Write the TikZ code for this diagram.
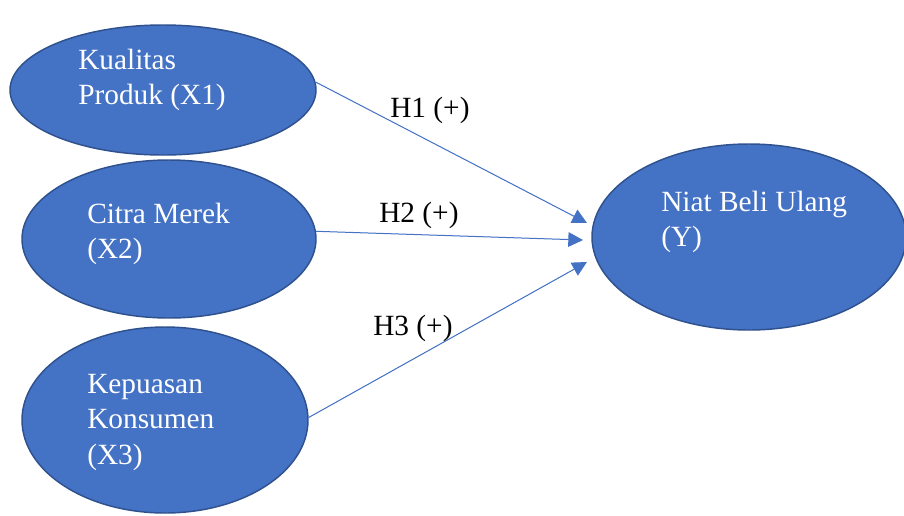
\documentclass[tikz,border=0pt]{standalone}
\usepackage{fontspec}
\setmainfont{Liberation Serif}
\usepackage{tikz}
\usetikzlibrary{arrows.meta,positioning,shapes.geometric}
\definecolor{fillblue}{HTML}{4472C4}
\definecolor{edgeblue}{HTML}{2F528F}

\begin{document}
\begin{tikzpicture}[
  x=0.75pt, y=-0.75pt,
  construct/.style={ellipse, draw=edgeblue, line width=1.1pt, fill=fillblue, inner sep=0pt},
  inlabel/.style={text=white, align=left, anchor=north west, inner sep=0pt,
                  font=\fontsize{22}{26.5}\selectfont},
  hyp/.style={anchor=base west, inner sep=0pt, font=\fontsize{22}{26}\selectfont},
  arrow/.style={-{Triangle[length=11pt,width=11pt]}, line width=0.75pt, draw=fillblue, fill=fillblue}
]
  \useasboundingbox (0,0) rectangle (904,515);

  % constructs
  \node[construct, minimum width=229.5pt, minimum height=97.5pt] (kp) at (163,90) {};
  \node[construct, minimum width=220.5pt, minimum height=118.5pt] (cm) at (169,239) {};
  \node[construct, minimum width=214.5pt, minimum height=139.5pt] (kk) at (165,420) {};
  \node[construct, minimum width=235.5pt, minimum height=139.5pt] (nbu) at (749,237) {};

  \node[inlabel] (kptext) at (78,49) {Kualitas\\Produk (X1)};
  \node[inlabel] (cmtext) at (87,203) {Citra Merek\\(X2)};
  \node[inlabel] (kktext) at (87,374) {Kepuasan\\Konsumen\\(X3)};
  \node[inlabel] (nbutext) at (661,191) {Niat Beli Ulang\\(Y)};

  % arrow ends in front of Y
  \coordinate (tip1) at (587,223);
  \coordinate (tip2) at (583,240);
  \coordinate (tip3) at (587,262);

  \draw[arrow] (kp.3) -- (tip1);
  \draw[arrow] (cm.3) -- (tip2);
  \draw[arrow] (kk.1) -- (tip3);

  \node[hyp] (h1) at (390,117) {H1 (+)};
  \node[hyp] (h2) at (379,222) {H2 (+)};
  \node[hyp] (h3) at (373,335) {H3 (+)};
\end{tikzpicture}
\end{document}
